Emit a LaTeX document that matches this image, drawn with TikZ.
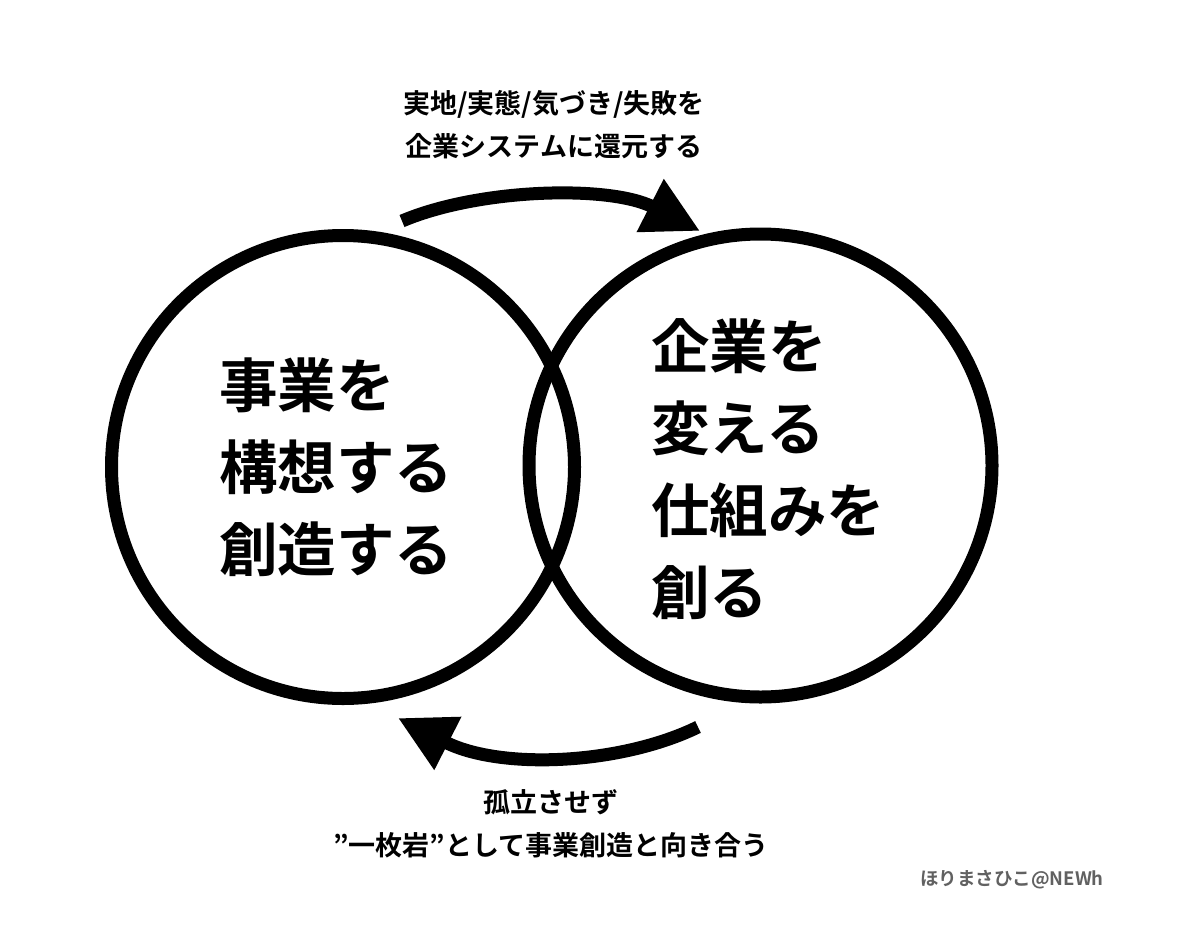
\documentclass[tikz,border=0pt]{standalone}
\usepackage{fontspec}
\setmainfont{Noto Sans CJK JP}[BoldFont={Noto Sans CJK JP Bold}]
\usetikzlibrary{arrows.meta}
\tikzset{
  ring/.style={draw=black, line width=13pt},
  bigtext/.style={font=\bfseries\fontsize{58.5pt}{82pt}\selectfont, align=left, inner sep=0pt, anchor=west},
  smalltext/.style={font=\bfseries\fontsize{27pt}{43pt}\selectfont, align=center, inner sep=0pt},
  credit/.style={font=\bfseries\fontsize{18.5pt}{22pt}\selectfont, text=black!62, inner sep=0pt, anchor=east},
  flow/.style={line width=13pt, -{Triangle[length=56pt,width=56pt]}}
}
\begin{document}
\begin{tikzpicture}[x=1pt,y=-1pt]
\fill[white] (0,0) rectangle (1200,945);
\useasboundingbox (0,0) rectangle (1200,945);
\node[ring, circle, minimum size=463pt, inner sep=0pt] (left) at (343,467) {};
\node[ring, circle, minimum size=463pt, inner sep=0pt] (right) at (760.5,465.5) {};
\node[bigtext] (ltext) at (219,467) {事業を\\構想する\\創造する};
\node[bigtext] (rtext) at (651,469) {企業を\\変える\\仕組みを\\創る};
\node[smalltext] (top) at (554,125) {実地/実態/気づき/失敗を\\企業システムに還元する};
\node[smalltext] (bottom) at (551,824) {孤立させず\\”一枚岩”として事業創造と向き合う};
\node[credit] (cred) at (1104,880) {ほりまさひこ@NEWh};
\coordinate (a1s) at (402,221);
\coordinate (a1e) at (700,231);
\coordinate (a2s) at (698,727);
\coordinate (a2e) at (398,718);
\draw[flow] (a1s) .. controls (480,188) and (610,185) .. (a1e);
\draw[flow] (a2s) .. controls (620,765) and (500,770) .. (a2e);
\end{tikzpicture}
\end{document}
